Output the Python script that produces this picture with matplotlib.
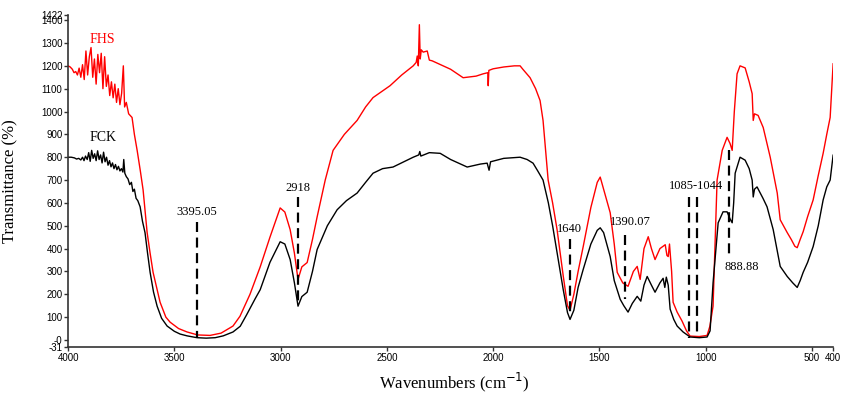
import matplotlib
matplotlib.use('Agg')
import matplotlib.pyplot as plt

# FCK spectrum (black)
fck_wn = [4000, 3985, 3970, 3960, 3950, 3940, 3932, 3925, 3918, 3910, 3903, 3896, 3889, 3882, 3875,
          3868, 3861, 3854, 3847, 3840, 3833, 3826, 3819, 3812, 3805, 3798, 3791, 3784, 3777, 3770,
          3763, 3756, 3749, 3742, 3738, 3733, 3726, 3718, 3710, 3702, 3695, 3688, 3680, 3672, 3661,
          3650, 3638, 3626, 3614, 3598, 3581, 3560, 3534, 3500, 3473, 3440, 3393, 3350, 3308, 3270,
          3224, 3190, 3160, 3120, 3096, 3050, 3002, 2980, 2955, 2935, 2918, 2900, 2875, 2850, 2828,
          2780, 2734, 2690, 2640, 2600, 2565, 2520, 2471, 2420, 2376, 2350, 2345, 2340, 2300, 2249,
          2200, 2122, 2060, 2028, 2019, 2012, 1950, 1873, 1840, 1812, 1790, 1765, 1740, 1720, 1699,
          1670, 1650, 1638, 1620, 1600, 1576, 1540, 1510, 1496, 1480, 1449, 1430, 1402, 1385, 1365,
          1345, 1322, 1305, 1290, 1275, 1255, 1238, 1215, 1200, 1192, 1185, 1176, 1167, 1150, 1134,
          1106, 1073, 1030, 993, 979, 965, 941, 918, 899, 885, 875, 868, 861, 838, 814,
          795, 781, 776, 770, 758, 730, 711, 682, 649, 616, 590, 569, 555, 541, 520,
          494, 470, 447, 430, 414, 400]
fck_t = [800, 800, 797, 792, 795, 788, 800, 785, 805, 790, 820, 782, 830, 795, 815,
         785, 828, 790, 810, 775, 822, 780, 800, 765, 785, 758, 775, 750, 768, 745,
         760, 740, 750, 735, 790, 730, 715, 705, 680, 690, 650, 660, 620, 610, 583,
         520, 470, 380, 296, 210, 148, 95, 61, 38, 26, 18, 10, 8, 10, 18,
         35, 60, 110, 180, 220, 340, 430, 420, 352, 250, 148, 190, 209, 300, 396,
         500, 570, 610, 643, 690, 730, 750, 757, 780, 800, 810, 825, 805, 820, 817,
         790, 757, 770, 774, 743, 780, 795, 800, 790, 774, 740, 700, 600, 500, 383,
         220, 120, 90, 130, 230, 309, 420, 480, 491, 470, 365, 260, 178, 150, 122,
         160, 191, 170, 240, 278, 240, 209, 250, 270, 230, 275, 240, 135, 90, 61,
         35, 13, 10, 13, 40, 250, 513, 561, 561, 530, 513, 600, 730, 800, 787,
         750, 700, 626, 660, 670, 620, 583, 483, 322, 278, 250, 230, 260, 296, 340,
         409, 500, 613, 670, 700, 809]

# FHS spectrum (red)
fhs_wn = [4000, 3990, 3980, 3972, 3964, 3956, 3948, 3940, 3932, 3924, 3916, 3908, 3900, 3892, 3884,
          3876, 3868, 3860, 3852, 3844, 3836, 3828, 3820, 3812, 3804, 3796, 3788, 3780, 3772, 3764,
          3756, 3748, 3740, 3734, 3726, 3715, 3699, 3688, 3675, 3660, 3647, 3628, 3614, 3600, 3567,
          3540, 3520, 3480, 3440, 3390, 3332, 3280, 3224, 3191, 3144, 3096, 3050, 3002, 2980, 2955,
          2935, 2918, 2900, 2875, 2850, 2828, 2790, 2753, 2700, 2640, 2600, 2565, 2520, 2485, 2430,
          2376, 2362, 2357, 2352, 2347, 2343, 2338, 2329, 2310, 2300, 2287, 2200, 2141, 2080, 2047,
          2025, 2023, 2020, 2000, 1950, 1900, 1873, 1860, 1826, 1800, 1779, 1765, 1750, 1741, 1720,
          1699, 1670, 1650, 1638, 1620, 1600, 1576, 1540, 1510, 1496, 1480, 1449, 1430, 1416, 1390,
          1365, 1340, 1322, 1308, 1290, 1270, 1255, 1238, 1215, 1200, 1190, 1182, 1176, 1170, 1160,
          1153, 1134, 1111, 1090, 1073, 1030, 993, 980, 965, 946, 922, 899, 885, 875, 865,
          852, 838, 814, 795, 781, 776, 770, 753, 729, 696, 663, 649, 616, 597, 580,
          569, 555, 541, 520, 494, 470, 447, 430, 414, 400]
fhs_t = [1200, 1195, 1185, 1170, 1175, 1160, 1190, 1150, 1205, 1140, 1265, 1160, 1240, 1280, 1150,
         1230, 1120, 1250, 1170, 1255, 1100, 1240, 1110, 1160, 1070, 1130, 1060, 1120, 1040, 1100,
         1030, 1080, 1200, 1020, 1040, 990, 974, 900, 830, 740, 657, 470, 380, 296, 165,
         100, 78, 50, 35, 22, 20, 30, 61, 104, 200, 320, 450, 578, 560, 483,
         380, 265, 320, 339, 440, 539, 700, 830, 900, 961, 1020, 1061, 1090, 1113, 1160,
         1200, 1215, 1243, 1200, 1380, 1230, 1270, 1260, 1265, 1225, 1222, 1185, 1148, 1155, 1165,
         1170, 1113, 1180, 1187, 1195, 1200, 1200, 1185, 1148, 1100, 1048, 961, 800, 700, 600,
         483, 280, 150, 130, 200, 300, 409, 580, 690, 713, 660, 557, 420, 296, 250,
         235, 300, 322, 265, 400, 452, 400, 352, 400, 410, 417, 370, 365, 420, 300,
         165, 122, 83, 40, 17, 15, 20, 60, 148, 700, 830, 887, 860, 830, 1000,
         1165, 1200, 1191, 1130, 1078, 961, 990, 983, 930, 800, 643, 526, 470, 440, 410,
         404, 440, 474, 540, 613, 720, 817, 900, 974, 1209]

# peak annotations: label, wavenumber of dashed line, line top/bottom, label position
peak_labels = ['3395.05', '2918', '1640', '1390.07', '1085-1044', '888.88']
peak_label_wn = [3395, 2918, 1640, 1355, 1045, 830]
peak_label_t = [562, 665, 487, 517, 672, 318]
line_wn = [3395, 2918, 1640, 1380, 1080, 1040, 888]
line_top = [515, 626, 440, 461, 626, 626, 830]
line_bot = [8, 157, 113, 178, 10, 10, 374]

xticks = [4000, 3500, 3000, 2500, 2000, 1500, 1000, 500, 400]
yticks = [-31, 0, 100, 200, 300, 400, 500, 600, 700, 800, 900, 1000, 1100, 1200, 1300, 1400, 1422]
ytick_labels = ['-31', '-0', '100', '200', '300', '400', '500', '600', '700', '800', '900',
                '1000', '1100', '1200', '1300', '1400', '1422']

serif = 'Liberation Serif'
sans = 'Liberation Sans'

fig = plt.figure(figsize=(8.51, 3.98), dpi=100)
ax = fig.add_axes([0.08, 0.128, 0.899, 0.834])

ax.plot(fhs_wn, fhs_t, color='red', lw=1.0)
ax.plot(fck_wn, fck_t, color='black', lw=1.0)

for w, t0, t1 in zip(line_wn, line_top, line_bot):
    ax.plot([w, w], [t0, t1], color='black', lw=1.6, ls=(0, (4.5, 2.5)))

for lab, w, t in zip(peak_labels, peak_label_wn, peak_label_t):
    ax.text(w, t, lab, ha='center', va='center', fontsize=9, family=serif)

ax.text(3840, 1317, 'FHS', color='red', ha='center', va='center', fontsize=10, family=serif)
ax.text(3835, 887, 'FCK', color='black', ha='center', va='center', fontsize=10, family=serif)

ax.set_xlim(4000, 400)
ax.set_ylim(-31, 1422)
ax.set_xticks(xticks)
ax.set_xticklabels([str(v) for v in xticks], family=sans, fontsize=7)
ax.set_yticks(yticks)
ax.set_yticklabels(ytick_labels, family=sans, fontsize=7)
ax.tick_params(direction='out', length=3, width=1, colors='#333333', labelcolor='black', pad=1)

for s in ['top', 'right']:
    ax.spines[s].set_visible(False)
for s in ['left', 'bottom']:
    ax.spines[s].set_color('#333333')
    ax.spines[s].set_linewidth(1.2)

ax.set_xlabel('Wavenumbers (cm$^{-1}$)', family=serif, fontsize=12)
ax.set_ylabel('Transmittance (%)', family=serif, fontsize=12)
ax.xaxis.set_label_coords(0.505, -0.07)
ax.yaxis.set_label_coords(-0.065, 0.5)

fig.savefig('out.png', dpi=100)
